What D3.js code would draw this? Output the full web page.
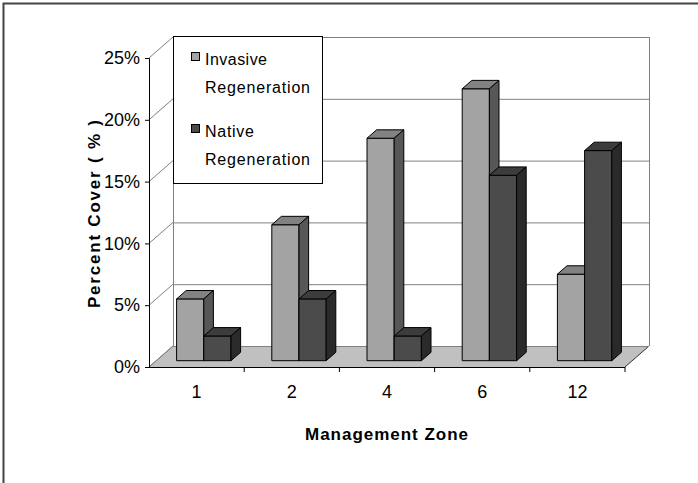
<!DOCTYPE html>
<html>
<head>
<meta charset="utf-8">
<script src="https://cdn.jsdelivr.net/npm/d3@7"></script>
<style>
  body { margin: 0; background: #fff; }
  text { font-family: "Liberation Sans", Arial, sans-serif; }
  .title { font-weight: bold; }
</style>
</head>
<body>
<script>
// data
const zones = ["1", "2", "4", "6", "12"];
const invasive = [5, 11, 18, 22, 7];
const native = [2, 5, 2, 15, 17];
const seriesLabels = [["Invasive", "Regeneration"], ["Native", "Regeneration"]];
const yTicks = [0, 5, 10, 15, 20, 25];

function drawChart(){

    const xSize = 698; const ySize = 483;
    // front plane of the plot
    const x0 = 149, x1 = 625;
    const yBase = 367, yTop = 58;
    // depth offset of the back wall
    const DX = 24, DY = 21;
    // bars sit between these fractions of the depth
    const t0 = 0.3, t1 = 0.7;

    const svg = d3.select("body")
    .append("svg")
    .attr("class","chart")
    .attr("width", xSize)
    .attr("height", ySize);

    // outer frame (right/bottom edges run off the picture)
    svg.append("rect")
        .attr("x", 3.5).attr("y", 3.5)
        .attr("width", 720).attr("height", 520)
        .attr("fill", "none")
        .attr("stroke", "#444")
        .attr("stroke-width", 2);

    const x = d3.scaleBand()
    .domain(zones)
    .range([x0, x1]);

    const xs = d3.scaleBand()
    .domain([0, 1])
    .range([0, x.bandwidth()])
    .paddingOuter(0.75);

    const y = d3.scaleLinear()
    .domain([0, 25])
    .range([yBase, yTop]);

    const h = v => yBase - y(v);

    // floor
    svg.append("polygon")
        .attr("points", [[x0, yBase], [x1, yBase], [x1 + DX, yBase - DY], [x0 + DX, yBase - DY]].join(" "))
        .attr("fill", "#c0c0c0");
    svg.append("line")
        .attr("x1", x1).attr("y1", yBase)
        .attr("x2", x1 + DX).attr("y2", yBase - DY)
        .attr("stroke", "#333");
    svg.append("line")
        .attr("x1", x0).attr("y1", yBase)
        .attr("x2", x0 + DX).attr("y2", yBase - DY)
        .attr("stroke", "#808080");

    // back wall and side wall gridlines
    const grid = svg.append("g").attr("stroke", "#808080").attr("fill", "none");
    yTicks.forEach(v => {
        const yy = y(v) - DY;
        grid.append("line")
            .attr("x1", x0 + DX).attr("y1", yy + 0.5)
            .attr("x2", x1 + DX).attr("y2", yy + 0.5);
        grid.append("line")
            .attr("x1", x0).attr("y1", y(v))
            .attr("x2", x0 + DX).attr("y2", yy);
    });
    grid.append("line")
        .attr("x1", x0 + DX + 0.5).attr("y1", y(25) - DY)
        .attr("x2", x0 + DX + 0.5).attr("y2", yBase - DY);
    grid.append("line")
        .attr("x1", x1 + DX + 0.5).attr("y1", y(25) - DY)
        .attr("x2", x1 + DX + 0.5).attr("y2", yBase - DY);

    // bars
    const colors = [
        { front: "#a3a3a3", top: "#828282", side: "#575757" },
        { front: "#4b4b4b", top: "#3c3c3c", side: "#2a2a2a" }
    ];
    const d = t1 - t0;

    zones.forEach((z, i) => {
        [invasive[i], native[i]].forEach((v, s) => {
            const c = colors[s];
            const w = xs.bandwidth();
            const fx = x(z) + xs(s) + t0 * DX;
            const fy = yBase - t0 * DY - h(v);
            const bh = h(v);
            const g = svg.append("g")
                .attr("stroke", "#000")
                .attr("stroke-width", 1)
                .attr("stroke-linejoin", "round");
            g.append("rect")
                .attr("x", fx).attr("y", fy)
                .attr("width", w).attr("height", bh)
                .attr("fill", c.front);
            g.append("polygon")
                .attr("points", [[fx, fy], [fx + w, fy], [fx + w + d * DX, fy - d * DY], [fx + d * DX, fy - d * DY]].join(" "))
                .attr("fill", c.top);
            g.append("polygon")
                .attr("points", [[fx + w, fy], [fx + w + d * DX, fy - d * DY], [fx + w + d * DX, fy - d * DY + bh], [fx + w, fy + bh]].join(" "))
                .attr("fill", c.side);
        });
    });

    // left axis
    svg.append("g")
    .attr("transform", `translate(${x0},0)`)
    .call(d3.axisLeft(y).tickValues(yTicks).tickSize(4).tickPadding(5).tickFormat(v => v + "%"))
    .call(g => g.select(".domain").attr("stroke", "#000"))
    .call(g => g.selectAll("text")
        .attr("font-family", null)
        .style("font-size", "18px")
        .attr("fill", "#000"));

    // bottom axis, ticks at category edges
    svg.append("line")
        .attr("x1", x0).attr("y1", yBase + 0.5)
        .attr("x2", x1).attr("y2", yBase + 0.5)
        .attr("stroke", "#000");
    zones.forEach(z => {
        svg.append("line")
            .attr("x1", x(z) + x.bandwidth()).attr("y1", yBase)
            .attr("x2", x(z) + x.bandwidth()).attr("y2", yBase + 5)
            .attr("stroke", "#000");
    });
    svg.append("g").selectAll("text")
        .data(zones)
        .enter()
        .append("text")
        .attr("x", z => x(z) + x.bandwidth() / 2)
        .attr("y", 398)
        .attr("text-anchor", "middle")
        .style("font-size", "18px")
        .text(z => z);

    // axis titles
    svg.append("text")
        .attr("class", "title")
        .attr("x", 305)
        .attr("y", 440)
        .attr("textLength", 163)
        .attr("lengthAdjust", "spacing")
        .style("font-size", "17px")
        .text("Management Zone");

    svg.append("text")
        .attr("class", "title")
        .attr("transform", "translate(100,308) rotate(-90)")
        .attr("textLength", 188)
        .attr("lengthAdjust", "spacing")
        .style("font-size", "17px")
        .text("Percent Cover ( % )");

    // legend
    const lg = svg.append("g");
    lg.append("rect")
        .attr("x", 173.5).attr("y", 36.5)
        .attr("width", 149).attr("height", 147)
        .attr("fill", "#fff")
        .attr("stroke", "#000");
    const lineLen = [[62, 105], [49, 105]];
    seriesLabels.forEach((lines, s) => {
        const top = 52 + s * 72;
        lg.append("rect")
            .attr("x", 191.5).attr("y", top + 0.5)
            .attr("width", 8).attr("height", 8)
            .attr("fill", colors[s].front)
            .attr("stroke", "#000");
        lines.forEach((t, k) => {
            lg.append("text")
                .attr("x", 205)
                .attr("y", top + 13 + k * 28)
                .attr("textLength", lineLen[s][k])
                .attr("lengthAdjust", "spacing")
                .style("font-size", "16px")
                .text(t);
        });
    });
}

drawChart();
</script>
</body>
</html>
